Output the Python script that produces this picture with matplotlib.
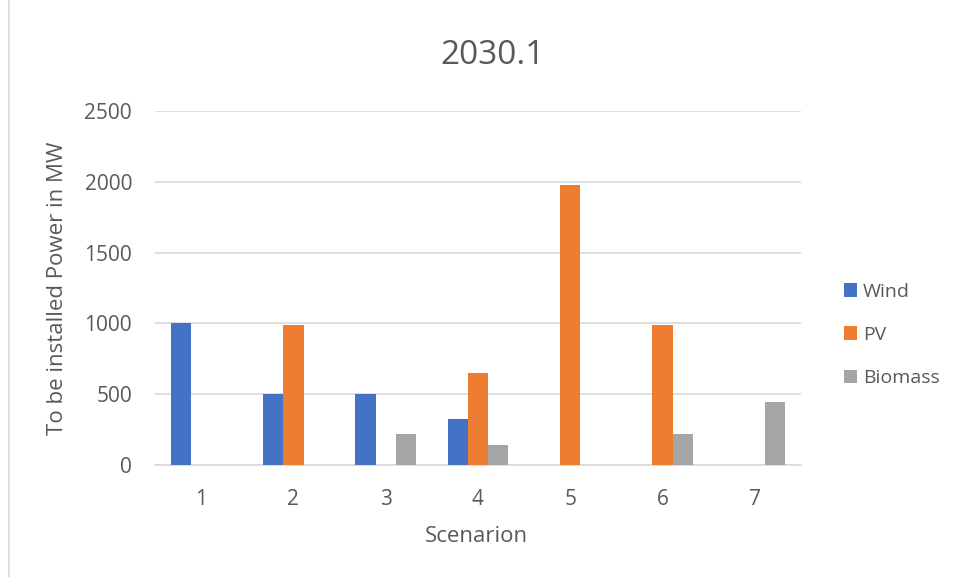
import matplotlib
matplotlib.use('Agg')
import matplotlib.pyplot as plt
import numpy as np
from matplotlib.patches import Rectangle

matplotlib.rcParams['font.family'] = ['Open Sans', 'DejaVu Sans']

scenarios = ['1', '2', '3', '4', '5', '6', '7']
wind = [1000, 500, 500, 325, 0, 0, 0]
pv = [0, 990, 0, 650, 1980, 990, 0]
biomass = [0, 0, 220, 140, 0, 220, 447]

colors = {'Wind': '#4472C4', 'PV': '#ED7D31', 'Biomass': '#A5A5A5'}
text_col = '#595959'
grid_col = '#D9D9D9'

W, H = 957, 577
fig = plt.figure(figsize=(W / 100, H / 100), dpi=100)
ax = fig.add_axes([155 / W, 1 - 465 / H, (801 - 155) / W, (465 - 111) / H])

x = np.arange(len(scenarios))
w = 0.22
ax.bar(x - w, wind, w, color=colors['Wind'], label='Wind', zorder=3)
ax.bar(x, pv, w, color=colors['PV'], label='PV', zorder=3)
ax.bar(x + w, biomass, w, color=colors['Biomass'], label='Biomass', zorder=3)

ax.set_xlim(-0.5, len(scenarios) - 0.5)
ax.set_ylim(0, 2500)
ax.set_yticks(np.arange(0, 2501, 500))
ax.set_xticks(x)
ax.set_xticklabels(scenarios)
ax.yaxis.grid(True, color=grid_col, linewidth=1.2, zorder=0)
ax.tick_params(length=0, labelsize=15, colors=text_col)
ax.tick_params(axis='y', pad=16.5)
ax.tick_params(axis='x', pad=17)
for s in ['top', 'right', 'left']:
    ax.spines[s].set_visible(False)
ax.spines['bottom'].set_color(grid_col)
ax.spines['bottom'].set_linewidth(1.2)

# title and axis titles placed in figure pixels
def px(xp, yp):
    return xp / W, 1 - yp / H

fig.text(*px(493, 56), '2030.1', fontsize=24, color=text_col, ha='center', va='center')
fig.text(*px(476, 536), 'Scenarion', fontsize=16, color=text_col, ha='center', va='center')
fig.text(*px(58, 288), 'To be installed Power in MW', fontsize=16, color=text_col,
         ha='center', va='center', rotation=90)

ax.legend(loc='center left', bbox_to_anchor=px(834, 335),
          bbox_transform=fig.transFigure, frameon=False, borderpad=0,
          fontsize=14, labelcolor=text_col, handlelength=0.7, handleheight=0.7,
          handletextpad=0.3, labelspacing=1.3)

# chart border
fig.patches.append(Rectangle(px(9, 600), 1.0, 1 - 12 / H + 0.1,
                             transform=fig.transFigure, fill=False,
                             edgecolor=grid_col, linewidth=1.2))

fig.savefig('out.png', dpi=100)
